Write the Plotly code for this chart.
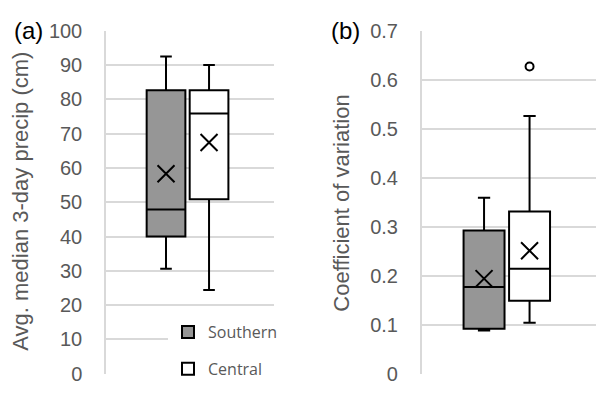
import plotly.graph_objects as go

W, H = 596, 395

groups = ["Southern", "Central"]
fills = ["#969696", "#ffffff"]

# Panel (a): Avg. median 3-day precip (cm)
a_q1 = [40.0, 50.9]
a_median = [47.9, 75.9]
a_q3 = [82.7, 82.7]
a_low = [30.6, 24.4]
a_high = [92.5, 90.0]
a_mean = [58.3, 67.4]

# Panel (b): Coefficient of variation
b_q1 = [0.0915, 0.149]
b_median = [0.177, 0.214]
b_q3 = [0.292, 0.331]
b_low = [0.088, 0.104]
b_high = [0.359, 0.526]
b_mean = [0.194, 0.251]
b_outlier_group = ["Central"]
b_outlier = [0.627]

y_ticks_a = [0, 10, 20, 30, 40, 50, 60, 70, 80, 90, 100]
y_ticks_b = [0, 0.1, 0.2, 0.3, 0.4, 0.5, 0.6, 0.7]
y_ticktext_b = ["0", "0.1", "0.2", "0.3", "0.4", "0.5", "0.6", "0.7"]

fig = go.Figure()

for i, g in enumerate(groups):
    fig.add_trace(go.Box(
        x=[g], q1=[a_q1[i]], median=[a_median[i]], q3=[a_q3[i]],
        lowerfence=[a_low[i]], upperfence=[a_high[i]],
        name=g, fillcolor=fills[i], line=dict(color="#000000", width=2),
        width=0.9, whiskerwidth=0.3, boxpoints=False,
        xaxis="x", yaxis="y", showlegend=True,
        legendgroup=g,
    ))
    fig.add_trace(go.Box(
        x=[g], q1=[b_q1[i]], median=[b_median[i]], q3=[b_q3[i]],
        lowerfence=[b_low[i]], upperfence=[b_high[i]],
        name=g, fillcolor=fills[i], line=dict(color="#000000", width=2),
        width=0.9, whiskerwidth=0.3, boxpoints=False,
        xaxis="x2", yaxis="y2", showlegend=False,
        legendgroup=g,
    ))

fig.add_trace(go.Scatter(
    x=groups, y=a_mean, mode="markers", xaxis="x", yaxis="y",
    marker=dict(symbol="x-thin", size=17, line=dict(color="#000000", width=2)),
    showlegend=False, hoverinfo="skip",
))
fig.add_trace(go.Scatter(
    x=groups, y=b_mean, mode="markers", xaxis="x2", yaxis="y2",
    marker=dict(symbol="x-thin", size=17, line=dict(color="#000000", width=2)),
    showlegend=False, hoverinfo="skip",
))
fig.add_trace(go.Scatter(
    x=b_outlier_group, y=b_outlier, mode="markers", xaxis="x2", yaxis="y2",
    marker=dict(symbol="circle-open", size=8, color="#000000", line=dict(color="#000000", width=2)),
    showlegend=False, hoverinfo="skip",
))

grid = "#d9d9d9"
tickfont = dict(family="Liberation Sans, Arial, sans-serif", size=20, color="#595959")
ydom = [(H - 384) / H, (H - 21) / H]

common_y = dict(
    showgrid=True, gridcolor=grid, gridwidth=1.5, zeroline=False,
    showline=True, linecolor=grid, linewidth=1.5,
    ticks="", tickfont=tickfont, ticklabelstandoff=18, domain=ydom,
)
common_x = dict(
    type="category", categoryorder="array", categoryarray=groups,
    showticklabels=False, showgrid=False, zeroline=False, showline=False, ticks="",
)

fig.update_layout(
    width=W, height=H,
    margin=dict(l=0, r=0, t=0, b=0),
    paper_bgcolor="#ffffff", plot_bgcolor="#ffffff",
    boxmode="overlay",
    xaxis=dict(domain=[106 / W, 274 / W], range=[-1.395, 2.51], anchor="y", **common_x),
    xaxis2=dict(domain=[421.7 / W, 1.0], range=[-1.37, 2.46], anchor="y2", **common_x),
    yaxis=dict(range=[0, 100], tickvals=y_ticks_a, anchor="x", **common_y),
    yaxis2=dict(range=[0, 0.7], tickvals=y_ticks_b, ticktext=y_ticktext_b, anchor="x2", **common_y),
    legend=dict(
        x=168 / W, y=(H - 322) / H, xanchor="left", yanchor="top",
        bgcolor="#ffffff", borderwidth=0,
        font=dict(family="Open Sans, sans-serif", size=16, color="#595959"),
        traceorder="grouped", tracegroupgap=13,
    ),
    showlegend=True,
    annotations=[
        dict(text="(a)", x=28 / W, y=(H - 21) / H, xref="paper", yref="paper",
             showarrow=False, xanchor="center", yanchor="middle",
             font=dict(family="Liberation Sans, Arial, sans-serif", size=24, color="#000000")),
        dict(text="(b)", x=345 / W, y=(H - 21) / H, xref="paper", yref="paper",
             showarrow=False, xanchor="center", yanchor="middle",
             font=dict(family="Liberation Sans, Arial, sans-serif", size=24, color="#000000")),
        dict(text="Avg. median 3-day precip (cm)", x=21 / W, y=(H - 202) / H,
             xref="paper", yref="paper", showarrow=False, textangle=-90,
             xanchor="center", yanchor="middle",
             font=dict(family="Liberation Sans, Arial, sans-serif", size=22, color="#595959")),
        dict(text="Coefficient of variation", x=342 / W, y=(H - 204) / H,
             xref="paper", yref="paper", showarrow=False, textangle=-90,
             xanchor="center", yanchor="middle",
             font=dict(family="Liberation Sans, Arial, sans-serif", size=22, color="#595959")),
    ],
)

fig.write_html("out.html")
